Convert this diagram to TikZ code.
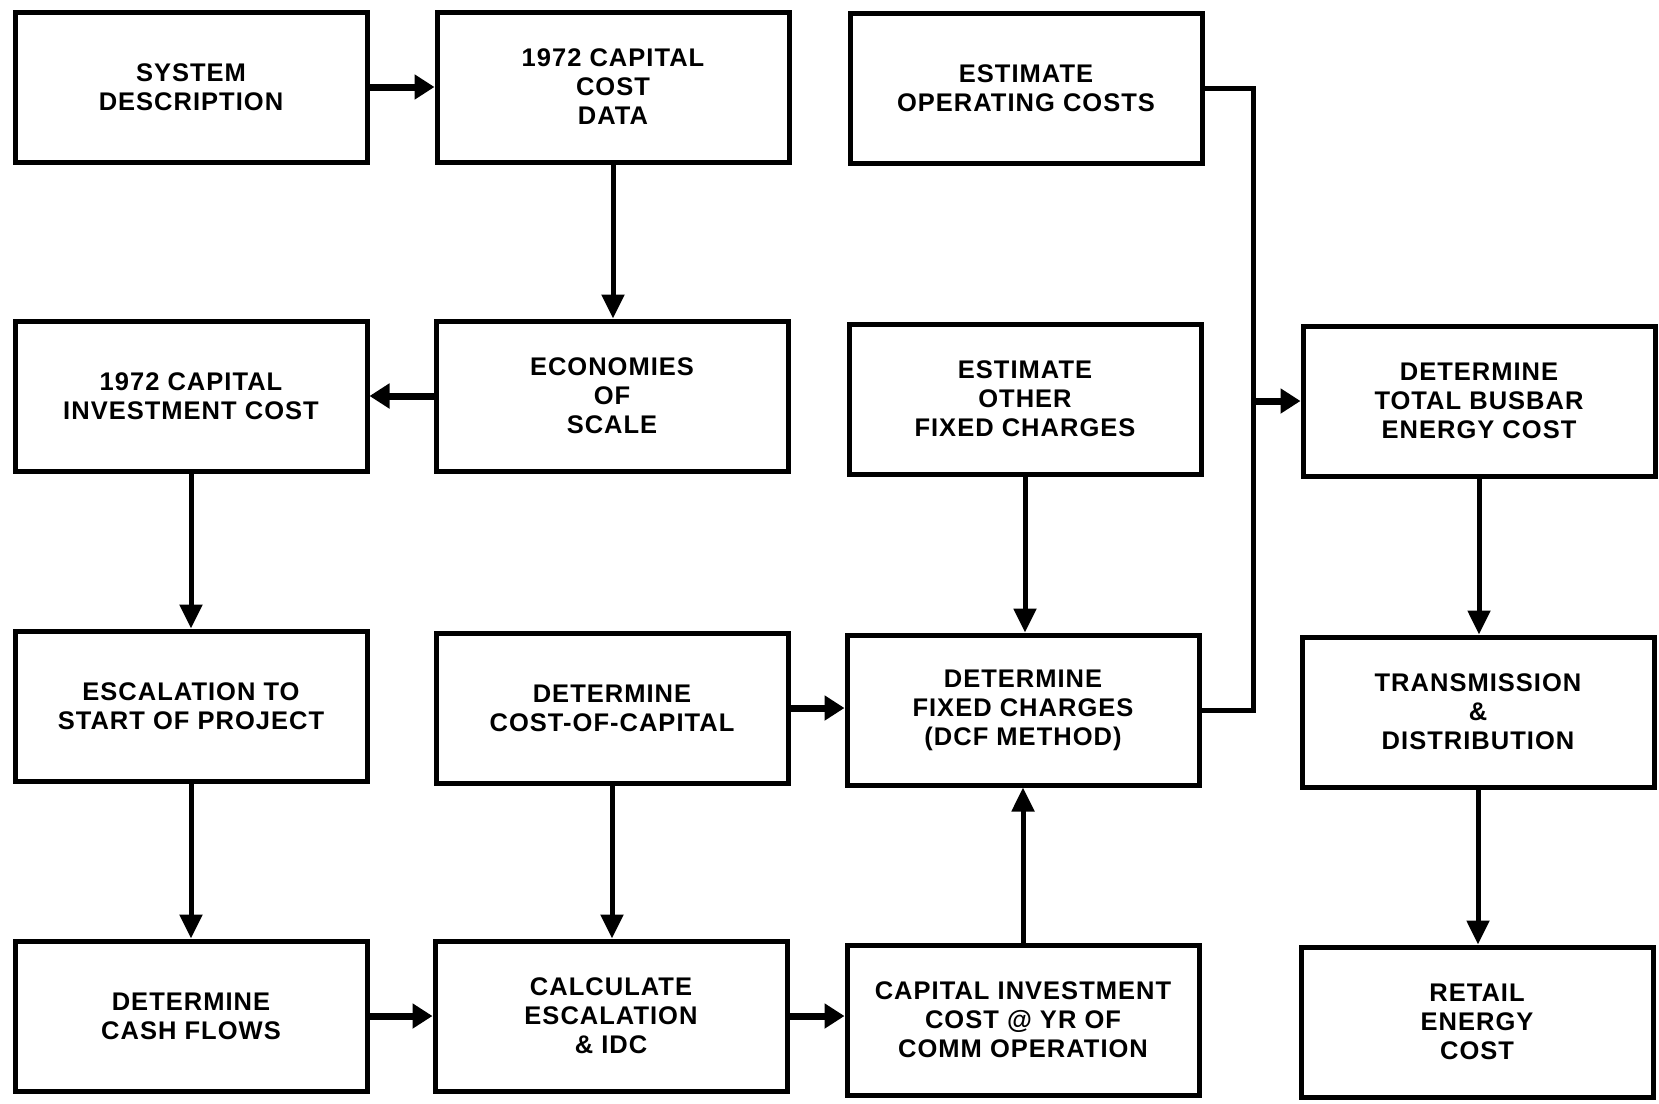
\documentclass[tikz,border=0pt]{standalone}
\usepackage{fontspec}
\newfontfamily\chartfont{Liberation Sans}[LetterSpace=4]
\usetikzlibrary{arrows.meta}
\begin{document}
\begin{tikzpicture}
  [
  x=1pt, y=-1pt,
  font=\chartfont\bfseries\fontsize{25.5}{29}\selectfont,
  stepbox/.style={rectangle, draw=black, line width=5pt, inner sep=0pt,
    minimum width=352pt, minimum height=150pt, align=center},
  link/.style={line width=5pt, -{Triangle[length=24pt, width=22pt]}},
  stub/.style={line width=7pt, -{Triangle[length=20pt, width=24pt]}}
  ]

\useasboundingbox (0,0) rectangle (1659,1103);

\node[stepbox] (sys) at (191,87) {SYSTEM\\DESCRIPTION};
\node[stepbox] (data) at (613,87) {1972 CAPITAL\\COST\\DATA};
\node[stepbox] (opcost) at (1026,88) {ESTIMATE\\OPERATING COSTS};

\node[stepbox] (invest) at (191,396) {1972 CAPITAL\\INVESTMENT COST};
\node[stepbox] (econ) at (612,396) {ECONOMIES\\OF\\SCALE};
\node[stepbox] (other) at (1025,399) {ESTIMATE\\OTHER\\FIXED CHARGES};
\node[stepbox] (busbar) at (1479,401) {DETERMINE\\TOTAL BUSBAR\\ENERGY COST};

\node[stepbox] (escal) at (191,706) {ESCALATION TO\\START OF PROJECT};
\node[stepbox] (coc) at (612,708) {DETERMINE\\COST-OF-CAPITAL};
\node[stepbox] (fixed) at (1023,710) {DETERMINE\\FIXED CHARGES\\(DCF METHOD)};
\node[stepbox] (trans) at (1478,712) {TRANSMISSION\\\&\\DISTRIBUTION};

\node[stepbox] (cash) at (191,1016) {DETERMINE\\CASH FLOWS};
\node[stepbox] (calc) at (611,1016) {CALCULATE\\ESCALATION\\\& IDC};
\node[stepbox] (capinv) at (1023,1020) {CAPITAL INVESTMENT\\COST @ YR OF\\COMM OPERATION};
\node[stepbox] (retail) at (1477,1022) {RETAIL\\ENERGY\\COST};

\foreach \a/\b in {data/econ, invest/escal, escal/cash, coc/calc, other/fixed, busbar/trans, trans/retail} {
  \draw[link] (\a.south) -- (\a.south |- \b.north);
}
\foreach \a/\b in {sys/data, coc/fixed, cash/calc, calc/capinv} {
  \draw[stub] (\a.east) -- (\a.east -| \b.west);
}
\draw[stub] (econ.west) -- (econ.west -| invest.east);
\draw[link] (capinv.north) -- (capinv.north |- fixed.south);

\coordinate (bus) at (1253,401);
\draw[line width=5pt] (opcost.east) -| (bus) |- (fixed.east);
\draw[stub] (bus) -- (busbar.west);

\end{tikzpicture}
\end{document}
